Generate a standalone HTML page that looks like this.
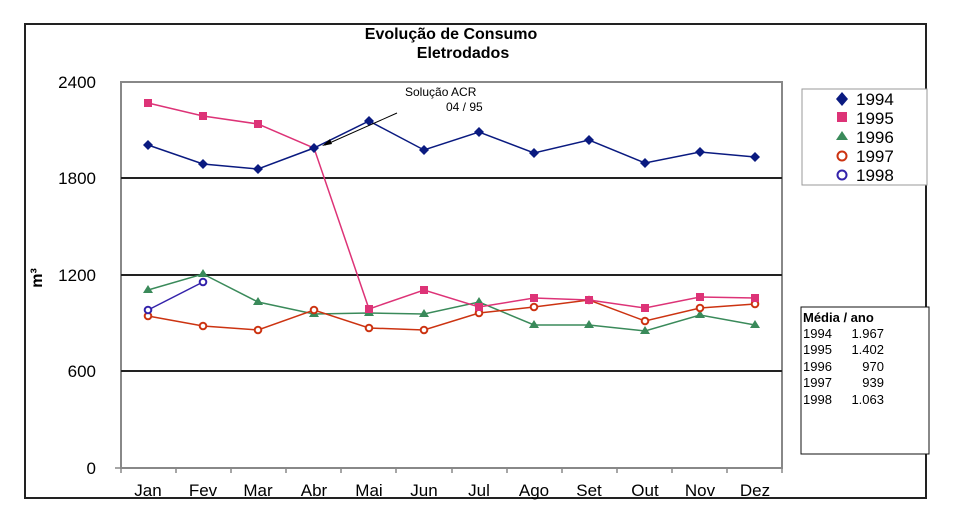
<!DOCTYPE html>
<html><head><meta charset="utf-8"><style>
html,body{margin:0;padding:0;background:#fff;width:958px;height:532px;overflow:hidden}
svg{display:block}
text{font-family:"Liberation Sans",Arial,sans-serif}
</style></head><body>
<svg width="958" height="532" viewBox="0 0 958 532">
<rect x="25" y="24" width="901" height="474" fill="#fff" stroke="#222" stroke-width="2"/>
<text x="451" y="39" font-size="16" font-weight="bold" text-anchor="middle">Evolução de Consumo</text>
<text x="463" y="58" font-size="16" font-weight="bold" text-anchor="middle">Eletrodados</text>
<rect x="121" y="82" width="661" height="386" fill="none" stroke="#888" stroke-width="2"/>
<g stroke="#222" stroke-width="2">
<line x1="121" y1="178" x2="782" y2="178"/>
<line x1="121" y1="275" x2="782" y2="275"/>
<line x1="121" y1="371" x2="782" y2="371"/>
</g>
<g stroke="#888" stroke-width="1.5">
<line x1="115" y1="468" x2="121" y2="468"/>
<line x1="121" y1="468" x2="121" y2="473"/><line x1="176" y1="468" x2="176" y2="473"/><line x1="231" y1="468" x2="231" y2="473"/><line x1="286" y1="468" x2="286" y2="473"/><line x1="341" y1="468" x2="341" y2="473"/><line x1="396" y1="468" x2="396" y2="473"/><line x1="452" y1="468" x2="452" y2="473"/><line x1="507" y1="468" x2="507" y2="473"/><line x1="562" y1="468" x2="562" y2="473"/><line x1="617" y1="468" x2="617" y2="473"/><line x1="672" y1="468" x2="672" y2="473"/><line x1="727" y1="468" x2="727" y2="473"/><line x1="782" y1="468" x2="782" y2="473"/>
</g>
<g font-size="17" text-anchor="end">
<text x="96" y="88">2400</text><text x="96" y="184">1800</text><text x="96" y="281">1200</text><text x="96" y="377">600</text><text x="96" y="474">0</text>
</g>
<text transform="translate(42,278) rotate(-90)" font-size="16" font-weight="bold" text-anchor="middle">m³</text>
<g font-size="17" text-anchor="middle">
<text x="148" y="496">Jan</text><text x="203" y="496">Fev</text><text x="258" y="496">Mar</text><text x="314" y="496">Abr</text><text x="369" y="496">Mai</text><text x="424" y="496">Jun</text><text x="479" y="496">Jul</text><text x="534" y="496">Ago</text><text x="589" y="496">Set</text><text x="645" y="496">Out</text><text x="700" y="496">Nov</text><text x="755" y="496">Dez</text>
</g>
<polyline fill="none" stroke="#3a8a5a" stroke-width="1.5" points="148,290 203,274 258,302 314,314 369,313 424,314 479,302 534,325 589,325 645,331 700,315 755,325"/>
<g fill="#3a8a5a"><polygon points="148,285 153,293 143,293"/><polygon points="203,269 208,277 198,277"/><polygon points="258,297 263,305 253,305"/><polygon points="314,309 319,317 309,317"/><polygon points="369,308 374,316 364,316"/><polygon points="424,309 429,317 419,317"/><polygon points="479,297 484,305 474,305"/><polygon points="534,320 539,328 529,328"/><polygon points="589,320 594,328 584,328"/><polygon points="645,326 650,334 640,334"/><polygon points="700,310 705,318 695,318"/><polygon points="755,320 760,328 750,328"/></g>
<polyline fill="none" stroke="#cc3311" stroke-width="1.5" points="148,316 203,326 258,330 314,310 369,328 424,330 479,313 534,307 589,300 645,321 700,308 755,304"/>
<g fill="#fff" stroke="#cc3311" stroke-width="2"><circle cx="148" cy="316" r="3.3"/><circle cx="203" cy="326" r="3.3"/><circle cx="258" cy="330" r="3.3"/><circle cx="314" cy="310" r="3.3"/><circle cx="369" cy="328" r="3.3"/><circle cx="424" cy="330" r="3.3"/><circle cx="479" cy="313" r="3.3"/><circle cx="534" cy="307" r="3.3"/><circle cx="589" cy="300" r="3.3"/><circle cx="645" cy="321" r="3.3"/><circle cx="700" cy="308" r="3.3"/><circle cx="755" cy="304" r="3.3"/></g>
<polyline fill="none" stroke="#3322aa" stroke-width="1.5" points="148,310 203,282"/>
<g fill="#fff" stroke="#3322aa" stroke-width="2"><circle cx="148" cy="310" r="3.3"/><circle cx="203" cy="282" r="3.3"/></g>
<polyline fill="none" stroke="#dd3377" stroke-width="1.5" points="148,103 203,116 258,124 314,148 369,309 424,290 479,307 534,298 589,300 645,308 700,297 755,298"/>
<g fill="#dd3377"><rect x="144" y="99" width="8" height="8"/><rect x="199" y="112" width="8" height="8"/><rect x="254" y="120" width="8" height="8"/><rect x="365" y="305" width="8" height="8"/><rect x="420" y="286" width="8" height="8"/><rect x="475" y="303" width="8" height="8"/><rect x="530" y="294" width="8" height="8"/><rect x="585" y="296" width="8" height="8"/><rect x="641" y="304" width="8" height="8"/><rect x="696" y="293" width="8" height="8"/><rect x="751" y="294" width="8" height="8"/></g>
<polyline fill="none" stroke="#0a1a80" stroke-width="1.5" points="148,145 203,164 258,169 314,148 369,121 424,150 479,132 534,153 589,140 645,163 700,152 755,157"/>
<g fill="#0a1a80"><polygon points="148,140 153,145 148,150 143,145"/><polygon points="203,159 208,164 203,169 198,164"/><polygon points="258,164 263,169 258,174 253,169"/><polygon points="314,143 319,148 314,153 309,148"/><polygon points="369,116 374,121 369,126 364,121"/><polygon points="424,145 429,150 424,155 419,150"/><polygon points="479,127 484,132 479,137 474,132"/><polygon points="534,148 539,153 534,158 529,153"/><polygon points="589,135 594,140 589,145 584,140"/><polygon points="645,158 650,163 645,168 640,163"/><polygon points="700,147 705,152 700,157 695,152"/><polygon points="755,152 760,157 755,162 750,157"/></g>
<text x="405" y="96" font-size="12">Solução ACR</text>
<text x="446" y="111" font-size="12">04 / 95</text>
<line x1="397" y1="113" x2="325" y2="145" stroke="#000" stroke-width="1"/>
<polygon points="322,146 330,139 332,144" fill="#000"/>
<rect x="802" y="89" width="125" height="96" fill="#fff" stroke="#999" stroke-width="1"/>
<polygon points="842,92 848,99 842,106 836,99" fill="#0a1a80"/>
<text x="856" y="105" font-size="17">1994</text>
<rect x="837" y="112" width="10" height="10" fill="#dd3377"/>
<text x="856" y="124" font-size="17">1995</text>
<polygon points="842,131 848,140 836,140" fill="#3a8a5a"/>
<text x="856" y="143" font-size="17">1996</text>
<circle cx="842" cy="156" r="4.5" fill="#fff" stroke="#cc3311" stroke-width="2"/>
<text x="856" y="162" font-size="17">1997</text>
<circle cx="842" cy="175" r="4.5" fill="#fff" stroke="#3322aa" stroke-width="2"/>
<text x="856" y="181" font-size="17">1998</text>
<rect x="801" y="307" width="128" height="147" fill="#fff" stroke="#111" stroke-width="1"/>
<g font-size="13">
<text x="803" y="322" font-weight="bold">Média / ano</text>
<text x="803" y="338">1994</text><text x="884" y="338" text-anchor="end">1.967</text>
<text x="803" y="354">1995</text><text x="884" y="354" text-anchor="end">1.402</text>
<text x="803" y="371">1996</text><text x="884" y="371" text-anchor="end">970</text>
<text x="803" y="387">1997</text><text x="884" y="387" text-anchor="end">939</text>
<text x="803" y="404">1998</text><text x="884" y="404" text-anchor="end">1.063</text>
</g>
</svg>
</body></html>
